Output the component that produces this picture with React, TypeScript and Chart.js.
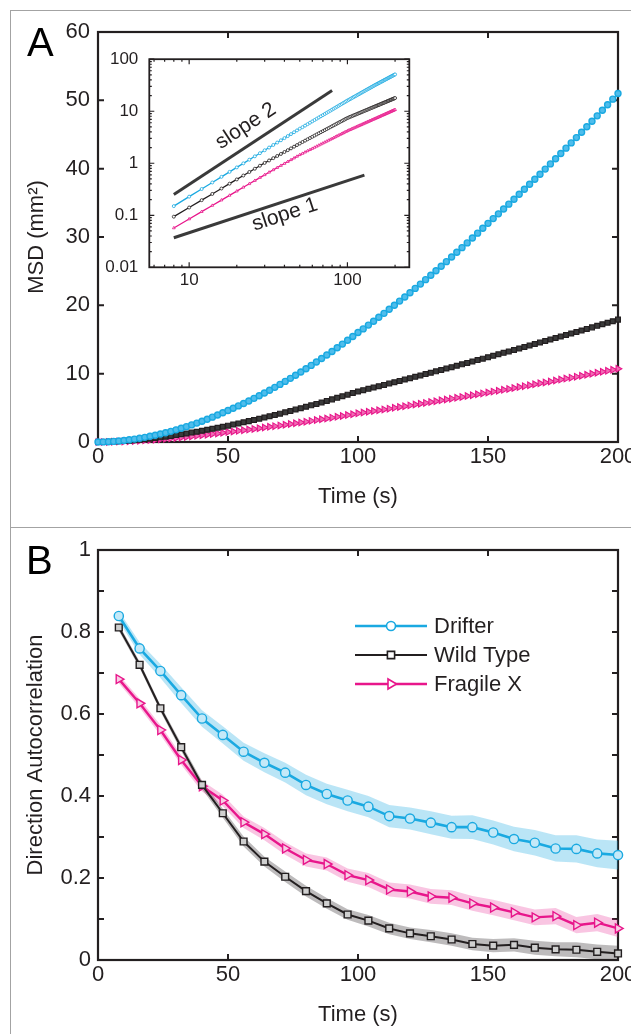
import React, { useEffect, useRef } from "react";
import { Chart, registerables } from "chart.js";

Chart.register(...registerables);

const FONT = '"Liberation Sans", Arial, Helvetica, sans-serif';
const INK = "#231f20";
const BLUE = "#1aa9e1";
const BLACK = "#231f20";
const PINK = "#e8168b";

// ---------- Panel A : MSD vs time ----------
const msdTime = [
  0, 2, 4, 6, 8, 10, 12, 14, 16, 18, 20, 22, 24, 26, 28, 30, 32, 34, 36, 38, 40, 42, 44, 46, 48, 50,
  52, 54, 56, 58, 60, 62, 64, 66, 68, 70, 72, 74, 76, 78, 80, 82, 84, 86, 88, 90, 92, 94, 96, 98, 100,
  102, 104, 106, 108, 110, 112, 114, 116, 118, 120, 122, 124, 126, 128, 130, 132, 134, 136, 138, 140,
  142, 144, 146, 148, 150, 152, 154, 156, 158, 160, 162, 164, 166, 168, 170, 172, 174, 176, 178, 180,
  182, 184, 186, 188, 190, 192, 194, 196, 198, 200,
];
const msdDrifter = [
  0, 0.011, 0.04, 0.087, 0.15, 0.228, 0.32, 0.427, 0.548, 0.683, 0.832, 0.995, 1.17, 1.359, 1.561, 1.776,
  2.004, 2.245, 2.499, 2.763, 3.042, 3.333, 3.636, 3.951, 4.278, 4.617,
  4.936, 5.284, 5.641, 6.009, 6.387, 6.775, 7.173, 7.582, 8.001, 8.43, 8.868, 9.316, 9.775, 10.24, 10.72,
  11.21, 11.7, 12.21, 12.73, 13.25, 13.79, 14.33, 14.88, 15.45, 16.02,
  16.55, 17.11, 17.68, 18.25, 18.83, 19.42, 20.02, 20.62, 21.23, 21.85, 22.48, 23.11, 23.76, 24.4, 25.06,
  25.72, 26.39, 27.07, 27.76, 28.44, 29.14, 29.85, 30.56, 31.28, 32.0,
  32.69, 33.39, 34.1, 34.81, 35.53, 36.25, 36.98, 37.71, 38.45, 39.19, 39.94, 40.7, 41.46, 42.22, 43.0,
  43.77, 44.55, 45.34, 46.13, 46.93, 47.73, 48.54, 49.36, 50.17, 51.0,
];
const msdWildType = [
  0, 0.008, 0.027, 0.056, 0.094, 0.141, 0.195, 0.257, 0.327, 0.405, 0.489, 0.581, 0.679, 0.785, 0.896,
  1.015, 1.131, 1.253, 1.379, 1.51, 1.646, 1.786, 1.932, 2.081, 2.236, 2.394,
  2.558, 2.72, 2.885, 3.055, 3.228, 3.404, 3.584, 3.768, 3.955, 4.146, 4.341, 4.538, 4.74, 4.944, 5.151,
  5.362, 5.576, 5.794, 6.014, 6.238, 6.465, 6.695, 6.928, 7.164, 7.4,
  7.589, 7.779, 7.971, 8.163, 8.356, 8.55, 8.746, 8.942, 9.139, 9.337, 9.536, 9.735, 9.936, 10.137, 10.34,
  10.543, 10.747, 10.952, 11.158, 11.364, 11.572, 11.78, 11.989, 12.199, 12.409,
  12.621, 12.833, 13.046, 13.259, 13.473, 13.689, 13.904, 14.121, 14.338, 14.556, 14.775, 14.995, 15.215,
  15.435, 15.657, 15.879, 16.102, 16.325, 16.549, 16.774, 17.0, 17.226, 17.452, 17.68, 17.908,
];
const msdFragileX = [
  0, 0.0048, 0.0166, 0.0342, 0.057, 0.0848, 0.1173, 0.1543, 0.1958, 0.2414, 0.2912, 0.345, 0.4028, 0.4646,
  0.5301, 0.599, 0.671, 0.745, 0.822, 0.903, 0.987, 1.074, 1.164, 1.257, 1.353, 1.452,
  1.54, 1.631, 1.725, 1.82, 1.917, 2.015, 2.115, 2.217, 2.321, 2.426, 2.533, 2.642, 2.752, 2.863, 2.976,
  3.091, 3.207, 3.324, 3.443, 3.564, 3.686, 3.809, 3.934, 4.06, 4.19,
  4.304, 4.418, 4.533, 4.649, 4.765, 4.883, 5.001, 5.119, 5.239, 5.359, 5.48, 5.602, 5.724, 5.847, 5.971,
  6.095, 6.22, 6.346, 6.472, 6.599, 6.726, 6.855, 6.984, 7.113, 7.24,
  7.372, 7.504, 7.637, 7.77, 7.904, 8.039, 8.174, 8.31, 8.446, 8.583, 8.721, 8.859, 8.998, 9.137, 9.277,
  9.418, 9.559, 9.7, 9.843, 9.985, 10.128, 10.272, 10.417, 10.561, 10.707,
];
const msdXTicks = [0, 50, 100, 150, 200];
const msdYTicks = [0, 10, 20, 30, 40, 50, 60];

// inset (log-log) reference lines
const slope2Time = [8, 80];
const slope2Msd = [0.25, 25];
const slope1Time = [8, 128];
const slope1Msd = [0.037, 0.59];
const insetXTicks = [6, 7, 8, 9, 10, 20, 30, 40, 50, 60, 70, 80, 90, 100, 200];
const insetYTicks = [
  0.01, 0.02, 0.03, 0.04, 0.05, 0.06, 0.07, 0.08, 0.09, 0.1, 0.2, 0.3, 0.4, 0.5, 0.6, 0.7, 0.8, 0.9,
  1, 2, 3, 4, 5, 6, 7, 8, 9, 10, 20, 30, 40, 50, 60, 70, 80, 90, 100,
];
const insetMajor = [0.01, 0.1, 1, 10, 100];

// ---------- Panel B : direction autocorrelation ----------
const acTime = [8, 16, 24, 32, 40, 48, 56, 64, 72, 80, 88, 96, 104, 112, 120, 128, 136, 144, 152, 160, 168, 176, 184, 192, 200];
const acDrifter = [0.839, 0.76, 0.705, 0.646, 0.589, 0.549, 0.508, 0.481, 0.457, 0.427, 0.405, 0.389, 0.374, 0.351, 0.345, 0.335, 0.324, 0.324, 0.311, 0.295, 0.286, 0.272, 0.271, 0.26, 0.256];
const acWildType = [0.811, 0.72, 0.614, 0.519, 0.427, 0.358, 0.289, 0.24, 0.203, 0.168, 0.138, 0.111, 0.096, 0.077, 0.065, 0.058, 0.05, 0.039, 0.035, 0.037, 0.03, 0.026, 0.025, 0.02, 0.016];
const acFragileX = [0.685, 0.626, 0.561, 0.488, 0.424, 0.389, 0.336, 0.307, 0.272, 0.244, 0.234, 0.207, 0.195, 0.172, 0.167, 0.155, 0.152, 0.138, 0.128, 0.116, 0.104, 0.107, 0.085, 0.091, 0.077];
const acDrifterErr = [0.012, 0.015, 0.017, 0.019, 0.02, 0.021, 0.022, 0.023, 0.024, 0.025, 0.025, 0.026, 0.026, 0.027, 0.027, 0.028, 0.028, 0.029, 0.029, 0.03, 0.031, 0.032, 0.033, 0.034, 0.035];
const acWildTypeErr = [0.008, 0.008, 0.008, 0.009, 0.01, 0.011, 0.012, 0.012, 0.013, 0.013, 0.013, 0.013, 0.014, 0.014, 0.014, 0.015, 0.015, 0.015, 0.016, 0.016, 0.017, 0.017, 0.018, 0.018, 0.019];
const acFragileXErr = [0.01, 0.011, 0.012, 0.012, 0.013, 0.014, 0.014, 0.015, 0.015, 0.016, 0.016, 0.016, 0.017, 0.017, 0.017, 0.018, 0.018, 0.018, 0.019, 0.019, 0.019, 0.02, 0.02, 0.021, 0.021];
const acYTicks = [0, 0.1, 0.2, 0.3, 0.4, 0.5, 0.6, 0.7, 0.8, 0.9, 1];
const seriesNames = ["Drifter", "Wild Type", "Fragile X"];

const pts = (xs: number[], ys: number[]) => xs.map((x, i) => ({ x, y: ys[i] }));

function framePlugin(o: { majorLen: number; minorLen?: number; box: number; tickW: number; isMajor?: (v: number) => boolean; bg?: string }) {
  return {
    id: "frameTicks",
    beforeDraw(chart: any) {
      if (!o.bg) return;
      const a = chart.chartArea;
      const ctx = chart.ctx;
      ctx.save();
      ctx.fillStyle = o.bg;
      ctx.fillRect(a.left, a.top, a.right - a.left, a.bottom - a.top);
      ctx.restore();
    },
    beforeDatasetsDraw(chart: any) {
      const { ctx, chartArea: a } = chart;
      const xs = chart.scales.x;
      const ys = chart.scales.y;
      ctx.save();
      ctx.strokeStyle = INK;
      ctx.lineWidth = o.tickW;
      ctx.beginPath();
      xs.ticks.forEach((t: any) => {
        const p = xs.getPixelForValue(t.value);
        const L = !o.isMajor || o.isMajor(t.value) ? o.majorLen : o.minorLen || 3;
        ctx.moveTo(p, a.bottom);
        ctx.lineTo(p, a.bottom - L);
        ctx.moveTo(p, a.top);
        ctx.lineTo(p, a.top + L);
      });
      ys.ticks.forEach((t: any) => {
        const p = ys.getPixelForValue(t.value);
        const L = !o.isMajor || o.isMajor(t.value) ? o.majorLen : o.minorLen || 3;
        ctx.moveTo(a.left, p);
        ctx.lineTo(a.left + L, p);
        ctx.moveTo(a.right, p);
        ctx.lineTo(a.right - L, p);
      });
      ctx.stroke();
      ctx.lineWidth = o.box;
      ctx.strokeRect(a.left, a.top, a.right - a.left, a.bottom - a.top);
      ctx.restore();
    },
  };
}

function letterPlugin(text: string, x: number, y: number) {
  return {
    id: "panelLetter",
    afterDraw(chart: any) {
      const ctx = chart.ctx;
      ctx.save();
      ctx.font = `40px ${FONT}`;
      ctx.fillStyle = "#000";
      ctx.textAlign = "left";
      ctx.textBaseline = "alphabetic";
      ctx.fillText(text, x, y);
      ctx.restore();
    },
  };
}

const tickFont = { family: FONT, size: 22 };
const titleFont = { family: FONT, size: 22 };

function App() {
  const aRef = useRef<HTMLCanvasElement>(null);
  const insetRef = useRef<HTMLCanvasElement>(null);
  const bRef = useRef<HTMLCanvasElement>(null);

  useEffect(() => {
    Chart.defaults.font.family = FONT;
    Chart.defaults.color = INK;

    // ---------- Panel A main ----------
    const chartA = new Chart(aRef.current as HTMLCanvasElement, {
      type: "line",
      data: {
        datasets: [
          {
            label: seriesNames[0],
            data: pts(msdTime, msdDrifter),
            borderColor: BLUE,
            borderWidth: 1.5,
            pointStyle: "circle",
            pointRadius: 3,
            pointBorderWidth: 1.4,
            pointBorderColor: BLUE,
            pointBackgroundColor: "#4fbdec",
            clip: false,
          },
          {
            label: seriesNames[1],
            data: pts(msdTime, msdWildType),
            borderColor: BLACK,
            borderWidth: 1.5,
            pointStyle: "rect",
            pointRadius: 3.4,
            pointBorderWidth: 1.2,
            pointBorderColor: BLACK,
            pointBackgroundColor: "#3a3a3a",
            clip: false,
          },
          {
            label: seriesNames[2],
            data: pts(msdTime, msdFragileX),
            borderColor: PINK,
            borderWidth: 1.5,
            pointStyle: "triangle",
            pointRotation: 90,
            pointRadius: 3.8,
            pointBorderWidth: 1.1,
            pointBorderColor: PINK,
            pointBackgroundColor: "#f06db4",
            clip: false,
          },
        ],
      } as any,
      options: {
        responsive: false,
        animation: false,
        devicePixelRatio: 1,
        events: [],
        layout: { padding: { left: 0, top: 32, right: 42, bottom: 0 } },
        plugins: { legend: { display: false }, tooltip: { enabled: false } },
        scales: {
          x: {
            type: "linear",
            min: 0,
            max: 200,
            afterFit: (s: any) => { s.height = 85; },
            afterBuildTicks: (s: any) => { s.ticks = msdXTicks.map((v) => ({ value: v })); },
            grid: { display: false, drawTicks: false },
            border: { display: false },
            ticks: { font: tickFont, color: INK, padding: 2, autoSkip: false, maxRotation: 0 },
            title: { display: true, text: "Time (s)", font: titleFont, color: INK, padding: { top: 0, bottom: 16.8 } },
          },
          y: {
            type: "linear",
            min: 0,
            max: 60,
            afterFit: (s: any) => { s.width = 98; },
            afterBuildTicks: (s: any) => { s.ticks = msdYTicks.map((v) => ({ value: v })); },
            grid: { display: false, drawTicks: false },
            border: { display: false },
            ticks: { font: tickFont, color: INK, padding: 8, autoSkip: false },
            title: { display: true, text: "MSD (mm²)", font: titleFont, color: INK, padding: { top: 23.8, bottom: 0 } },
          },
        },
      } as any,
      plugins: [framePlugin({ majorLen: 6, box: 2.2, tickW: 2 }), letterPlugin("A", 27, 56)],
    });

    // ---------- Panel A inset ----------
    const insetStart = msdTime.indexOf(8);
    const lineT = msdTime.slice(insetStart);
    const slopeLabels = [
      { text: "slope 2", at: [22.8, 5.2], t: slope2Time, v: slope2Msd },
      { text: "slope 1", at: [40.3, 0.103], t: slope1Time, v: slope1Msd },
    ];
    const chartInset = new Chart(insetRef.current as HTMLCanvasElement, {
      type: "line",
      data: {
        datasets: [
          {
            label: "slope 2",
            data: pts(slope2Time, slope2Msd),
            borderColor: "#3a3a3a",
            borderWidth: 3,
            pointRadius: 0,
          },
          {
            label: "slope 1",
            data: pts(slope1Time, slope1Msd),
            borderColor: "#3a3a3a",
            borderWidth: 3,
            pointRadius: 0,
          },
          {
            label: seriesNames[0],
            data: pts(lineT, msdDrifter.slice(insetStart)),
            borderColor: BLUE,
            borderWidth: 1.3,
            pointStyle: "circle",
            pointRadius: 1.5,
            pointBorderWidth: 0.8,
            pointBorderColor: BLUE,
            pointBackgroundColor: "#ffffff",
          },
          {
            label: seriesNames[1],
            data: pts(lineT, msdWildType.slice(insetStart)),
            borderColor: BLACK,
            borderWidth: 1.3,
            pointStyle: "circle",
            pointRadius: 1.5,
            pointBorderWidth: 0.8,
            pointBorderColor: BLACK,
            pointBackgroundColor: "#ffffff",
          },
          {
            label: seriesNames[2],
            data: pts(lineT, msdFragileX.slice(insetStart)),
            borderColor: PINK,
            borderWidth: 1.3,
            pointStyle: "triangle",
            pointRadius: 1.6,
            pointBorderWidth: 0.8,
            pointBorderColor: PINK,
            pointBackgroundColor: "#ffffff",
          },
        ],
      } as any,
      options: {
        responsive: false,
        animation: false,
        devicePixelRatio: 1,
        events: [],
        layout: { padding: { left: 0, top: 14.7, right: 20.7, bottom: 0 } },
        plugins: { legend: { display: false }, tooltip: { enabled: false } },
        scales: {
          x: {
            type: "logarithmic",
            min: 5.6,
            max: 246,
            afterFit: (s: any) => { s.height = 32.7; },
            afterBuildTicks: (s: any) => { s.ticks = insetXTicks.map((v) => ({ value: v })); },
            grid: { display: false, drawTicks: false },
            border: { display: false },
            ticks: {
              font: { family: FONT, size: 17 },
              color: INK,
              padding: 3,
              autoSkip: false,
              maxRotation: 0,
              callback: (v: any) => (v === 10 || v === 100 ? String(v) : ""),
            },
          },
          y: {
            type: "logarithmic",
            min: 0.01,
            max: 100,
            afterFit: (s: any) => { s.width = 49.3; },
            afterBuildTicks: (s: any) => { s.ticks = insetYTicks.map((v) => ({ value: v })); },
            grid: { display: false, drawTicks: false },
            border: { display: false },
            ticks: {
              font: { family: FONT, size: 17 },
              color: INK,
              padding: 11,
              autoSkip: false,
              callback: (v: any) => (insetMajor.includes(v) ? String(v) : ""),
            },
          },
        },
      } as any,
      plugins: [
        framePlugin({
          majorLen: 5,
          minorLen: 2.5,
          box: 1.8,
          tickW: 1.2,
          bg: "#ffffff",
          isMajor: (v) => insetMajor.includes(v) || v === 10 || v === 100,
        }),
        {
          id: "slopeLabels",
          afterDatasetsDraw(chart: any) {
            const { ctx } = chart;
            const xs = chart.scales.x;
            const ys = chart.scales.y;
            slopeLabels.forEach((it) => {
              const x0 = xs.getPixelForValue(it.t[0]);
              const y0 = ys.getPixelForValue(it.v[0]);
              const x1 = xs.getPixelForValue(it.t[1]);
              const y1 = ys.getPixelForValue(it.v[1]);
              const ang = Math.atan2(y1 - y0, x1 - x0);
              const px = xs.getPixelForValue(it.at[0]);
              const py = ys.getPixelForValue(it.at[1]);
              ctx.save();
              ctx.translate(px, py);
              ctx.rotate(ang);
              ctx.font = `21px ${FONT}`;
              ctx.fillStyle = INK;
              ctx.textAlign = "center";
              ctx.textBaseline = "middle";
              ctx.fillText(it.text, 0, 0);
              ctx.restore();
            });
          },
        },
      ],
    });

    // ---------- Panel B ----------
    const band = (vals: number[], err: number[], sign: number) => vals.map((v, i) => ({ x: acTime[i], y: v + sign * err[i] }));
    const bandDs = (vals: number[], err: number[], color: string) => [
      { label: "_u", data: band(vals, err, 1), borderWidth: 0, pointRadius: 0, fill: false, order: 10 },
      { label: "_l", data: band(vals, err, -1), borderWidth: 0, pointRadius: 0, fill: "-1", backgroundColor: color, order: 10 },
    ];
    const markerFill = ["#c4e9f8", "#cfcfcf", "#f7cde4"];
    const lineStyles = [
      { color: BLUE, style: "circle", radius: 4.6, rot: 0, width: 2.6 },
      { color: BLACK, style: "rect", radius: 4.8, rot: 0, width: 2 },
      { color: PINK, style: "triangle", radius: 5.2, rot: 90, width: 2.4 },
    ];
    const mainVals = [acDrifter, acWildType, acFragileX];
    const lineDs = mainVals.map((vals, k) => ({
      label: seriesNames[k],
      data: pts(acTime, vals),
      borderColor: lineStyles[k].color,
      borderWidth: lineStyles[k].width,
      pointStyle: lineStyles[k].style,
      pointRotation: lineStyles[k].rot,
      pointRadius: lineStyles[k].radius,
      pointBorderWidth: 1.4,
      pointBorderColor: lineStyles[k].color,
      pointBackgroundColor: markerFill[k],
      fill: false,
      clip: false,
      order: k + 1,
    }));

    const chartB = new Chart(bRef.current as HTMLCanvasElement, {
      type: "line",
      data: {
        datasets: [
          ...bandDs(acDrifter, acDrifterErr, "rgba(26,169,225,0.30)"),
          ...bandDs(acWildType, acWildTypeErr, "rgba(35,31,32,0.30)"),
          ...bandDs(acFragileX, acFragileXErr, "rgba(232,22,139,0.25)"),
          ...lineDs,
        ],
      } as any,
      options: {
        responsive: false,
        animation: false,
        devicePixelRatio: 1,
        events: [],
        layout: { padding: { left: 0, top: 22, right: 42, bottom: 0 } },
        plugins: { legend: { display: false }, tooltip: { enabled: false } },
        scales: {
          x: {
            type: "linear",
            min: 0,
            max: 200,
            afterFit: (s: any) => { s.height = 74; },
            afterBuildTicks: (s: any) => { s.ticks = msdXTicks.map((v) => ({ value: v })); },
            grid: { display: false, drawTicks: false },
            border: { display: false },
            ticks: { font: tickFont, color: INK, padding: 2, autoSkip: false, maxRotation: 0 },
            title: { display: true, text: "Time (s)", font: titleFont, color: INK, padding: { top: 0, bottom: 5.8 } },
          },
          y: {
            type: "linear",
            min: 0,
            max: 1,
            afterFit: (s: any) => { s.width = 98; },
            afterBuildTicks: (s: any) => { s.ticks = acYTicks.map((v) => ({ value: v })); },
            grid: { display: false, drawTicks: false },
            border: { display: false },
            ticks: {
              font: tickFont,
              color: INK,
              padding: 7,
              autoSkip: false,
              callback: (v: any) => {
                const r = Math.round(v * 10);
                if (r % 2 !== 0) return "";
                if (r === 0) return "0";
                if (r === 10) return "1";
                return (r / 10).toFixed(1);
              },
            },
            title: { display: true, text: "Direction Autocorrelation", font: titleFont, color: INK, padding: { top: 22.8, bottom: 0 } },
          },
        },
      } as any,
      plugins: [
        framePlugin({ majorLen: 6, box: 2.2, tickW: 2 }),
        letterPlugin("B", 26, 46),
        {
          id: "legendB",
          afterDraw(chart: any) {
            const ctx = chart.ctx;
            const x0 = 355;
            const x1 = 427;
            const xm = 391;
            const rows = [98, 127, 156];
            ctx.save();
            rows.forEach((y, k) => {
              const st = lineStyles[k];
              ctx.strokeStyle = st.color;
              ctx.lineWidth = st.width;
              ctx.beginPath();
              ctx.moveTo(x0, y);
              ctx.lineTo(x1, y);
              ctx.stroke();
              ctx.fillStyle = "#ffffff";
              ctx.lineWidth = 1.6;
              ctx.beginPath();
              if (st.style === "circle") {
                ctx.arc(xm, y, 4.5, 0, Math.PI * 2);
              } else if (st.style === "rect") {
                ctx.rect(xm - 3.6, y - 3.6, 7.2, 7.2);
              } else {
                ctx.moveTo(xm + 5.5, y);
                ctx.lineTo(xm - 3, y - 5);
                ctx.lineTo(xm - 3, y + 5);
                ctx.closePath();
              }
              ctx.fill();
              ctx.stroke();
              ctx.fillStyle = INK;
              ctx.font = `22px ${FONT}`;
              ctx.textAlign = "left";
              ctx.textBaseline = "middle";
              ctx.fillText(seriesNames[k], 434, y + 1);
            });
            ctx.restore();
          },
        },
      ],
    });

    return () => {
      chartA.destroy();
      chartInset.destroy();
      chartB.destroy();
    };
  }, []);

  return (
    <div
      style={{
        position: "absolute",
        left: 0,
        top: 0,
        width: 631,
        height: 1034,
        overflow: "hidden",
        background: "#ffffff",
      }}
    >
      <div
        style={{
          position: "absolute",
          left: 10,
          top: 10,
          width: 700,
          height: 1100,
          borderTop: "1.5px solid #a3a3a3",
          borderLeft: "1.5px solid #a3a3a3",
        }}
      />
      <div
        style={{
          position: "absolute",
          left: 10,
          top: 527,
          width: 700,
          height: 0,
          borderTop: "1.5px solid #a3a3a3",
        }}
      />
      <canvas ref={aRef} width={660} height={527} style={{ position: "absolute", left: 0, top: 0, display: "block" }} />
      <canvas ref={insetRef} width={330} height={262} style={{ position: "absolute", left: 100, top: 38, display: "block" }} />
      <canvas ref={bRef} width={660} height={506} style={{ position: "absolute", left: 0, top: 528, display: "block" }} />
    </div>
  );
}

export default App;
